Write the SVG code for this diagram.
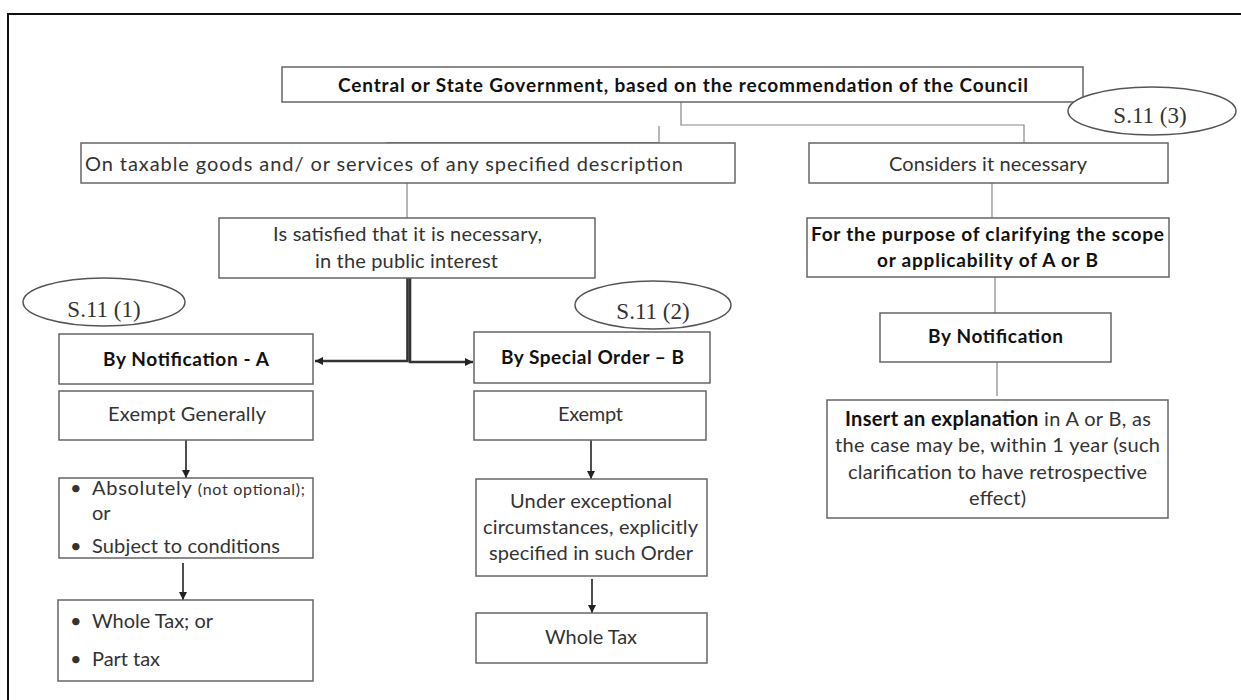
<svg xmlns="http://www.w3.org/2000/svg" width="1241" height="700" viewBox="0 0 1241 700">
<defs>
<style>
.box{fill:#fff;stroke:#666;stroke-width:1.5}
.oval{fill:#fff;stroke:#555;stroke-width:1.5}
.t{font-family:Lato,"Liberation Sans",sans-serif;font-size:20px;fill:#333;text-anchor:middle}
.b{font-family:Lato,"Liberation Sans",sans-serif;font-size:19px;fill:#111;font-weight:bold;text-anchor:middle}
.l{font-family:Lato,"Liberation Sans",sans-serif;font-size:20px;fill:#333}
.s{font-family:"Liberation Serif","Times New Roman",serif;font-size:23px;fill:#333;text-anchor:middle}
.thin{fill:none;stroke:#888;stroke-width:1.2}
.arr{fill:none;stroke:#222;stroke-width:1.6}
.thick{fill:none;stroke:#333;stroke-width:2.6}
</style>
<marker id="ah" viewBox="0 0 8 8" markerWidth="8" markerHeight="8" refX="8" refY="4" orient="auto" markerUnits="userSpaceOnUse">
<path d="M0,0 L8,4 L0,8 z" fill="#222"/>
</marker>
</defs>
<rect width="1241" height="700" fill="#fff"/>
<path d="M8,705 V14 H1245" fill="none" stroke="#111" stroke-width="2"/>

<g id="connectors">
<path class="thin" d="M681,102 V125 H1024 V143"/>
<path class="thin" d="M659,126 V142.5 H386" stroke="#444"/>
<path class="thin" d="M407,183 V218"/>
<path class="thin" d="M992,183 V218"/>
<path class="thin" d="M995,277 V313"/>
<path class="thin" d="M997,362 V396"/>
<path class="thick" d="M407.5,278 V361 H315" marker-end="url(#ah)"/>
<path class="thick" d="M410,278 V362 H473" marker-end="url(#ah)"/>
<path class="arr" d="M186,440 V478" marker-end="url(#ah)"/>
<path class="arr" d="M183,563 V600" marker-end="url(#ah)"/>
<path class="arr" d="M591,440 V479" marker-end="url(#ah)"/>
<path class="arr" d="M592,579 V613" marker-end="url(#ah)"/>
</g>

<g id="n-top">
<rect class="box" x="282" y="67" width="801" height="35"/>
<text class="b" x="683" y="92" textLength="690">Central or State Government, based on the recommendation of the Council</text>
</g>
<g id="n-s113">
<ellipse class="oval" cx="1152" cy="111" rx="84" ry="24"/>
<text class="s" x="1150" y="123">S.11 (3)</text>
</g>
<g id="n-taxable">
<rect class="box" x="81" y="143" width="654" height="40"/>
<text class="t" x="384" y="171" textLength="598">On taxable goods and/ or services of any specified description</text>
</g>
<g id="n-considers">
<rect class="box" x="809" y="143" width="359" height="40"/>
<text class="t" x="988" y="171" textLength="198">Considers it necessary</text>
</g>
<g id="n-satisfied">
<rect class="box" x="219" y="218" width="376" height="60"/>
<text class="t" x="407.5" y="241" textLength="269">Is satisfied that it is necessary,</text>
<text class="t" x="406.5" y="268" textLength="183">in the public interest</text>
</g>
<g id="n-purpose">
<rect class="box" x="807" y="218" width="362" height="59"/>
<text class="b" x="987.5" y="241" textLength="353">For the purpose of clarifying the scope</text>
<text class="b" x="987.5" y="267" textLength="221">or applicability of A or B</text>
</g>
<g id="n-s111">
<ellipse class="oval" cx="104" cy="302" rx="81" ry="24"/>
<text class="s" x="104" y="317">S.11 (1)</text>
</g>
<g id="n-s112">
<ellipse class="oval" cx="653" cy="305" rx="78" ry="24"/>
<text class="s" x="653" y="319">S.11 (2)</text>
</g>
<g id="n-notifA">
<rect class="box" x="59" y="334" width="254" height="50"/>
<text class="b" x="186" y="366" textLength="166">By Notification - A</text>
</g>
<g id="n-orderB">
<rect class="box" x="474" y="332" width="236" height="51"/>
<text class="b" x="592.5" y="364" textLength="183">By Special Order – B</text>
</g>
<g id="n-notif">
<rect class="box" x="880" y="313" width="231" height="49"/>
<text class="b" x="995.5" y="343" textLength="135">By Notification</text>
</g>
<g id="n-exgen">
<rect class="box" x="59" y="391" width="254" height="49"/>
<text class="t" x="187" y="421" textLength="158">Exempt Generally</text>
</g>
<g id="n-exempt">
<rect class="box" x="474" y="391" width="232" height="49"/>
<text class="t" x="590.5" y="421" textLength="65">Exempt</text>
</g>
<g id="n-insert">
<rect class="box" x="827" y="400" width="341" height="118"/>
<text class="t" x="998" y="426" textLength="306"><tspan font-weight="bold" fill="#111">Insert an explanation</tspan> in A or B, as</text>
<text class="t" x="997.5" y="452" textLength="325">the case may be, within 1 year (such</text>
<text class="t" x="997.5" y="479" textLength="299">clarification to have retrospective</text>
<text class="t" x="997.5" y="505" textLength="57">effect)</text>
</g>
<g id="n-absolutely">
<rect class="box" x="59" y="478" width="254" height="80"/>
<text class="l" x="70" y="495">•</text>
<text class="l" x="92" y="495" textLength="213">Absolutely <tspan font-size="16">(not optional);</tspan></text>
<text class="l" x="92" y="520" font-size="16">or</text>
<text class="l" x="70" y="553">•</text>
<text class="l" x="92" y="553" textLength="188">Subject to conditions</text>
</g>
<g id="n-exceptional">
<rect class="box" x="476" y="479" width="231" height="97"/>
<text class="t" x="591" y="508" textLength="162">Under exceptional</text>
<text class="t" x="590.5" y="534" textLength="215">circumstances, explicitly</text>
<text class="t" x="591" y="560" textLength="204">specified in such Order</text>
</g>
<g id="n-wholepart">
<rect class="box" x="58" y="600" width="255" height="81"/>
<text class="l" x="70" y="628">•</text>
<text class="l" x="92" y="628" textLength="121">Whole Tax; or</text>
<text class="l" x="70" y="666">•</text>
<text class="l" x="92" y="666" textLength="68">Part tax</text>
</g>
<g id="n-wholetax">
<rect class="box" x="476" y="613" width="231" height="50"/>
<text class="t" x="591" y="644" textLength="92">Whole Tax</text>
</g>
</svg>
